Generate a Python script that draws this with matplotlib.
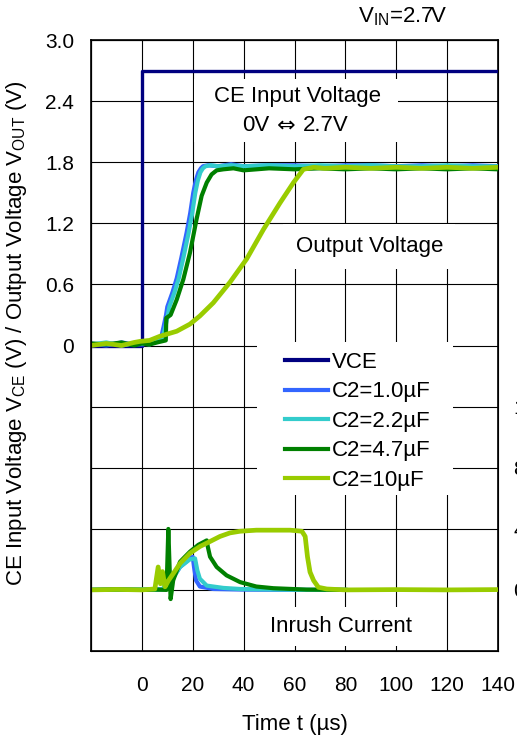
import matplotlib
matplotlib.use("Agg")
import matplotlib.pyplot as plt
from matplotlib.patches import Rectangle

plt.rcParams['font.family'] = ['Liberation Sans', 'DejaVu Sans']
plt.rcParams['mathtext.fontset'] = 'custom'
plt.rcParams['mathtext.rm'] = 'Liberation Sans'
plt.rcParams['mathtext.it'] = 'Liberation Sans'

# ---------------- data ----------------
x_ticks = [-20, 0, 20, 40, 60, 80, 100, 120, 140]
x_tick_labels = ['', '0', '20', '40', '60', '80', '100', '120', '140']
y_ticks = [-3.0, -2.4, -1.8, -1.2, -0.6, 0.0, 0.6, 1.2, 1.8, 2.4, 3.0]
y_tick_labels = ['', '', '', '', '', '0', '0.6', '1.2', '1.8', '2.4', '3.0']
i_ticks = [0, 4, 8, 12]
i_tick_labels = ['0', '4', '8', '12']

series_names = ['VCE', 'C2=1.0µF', 'C2=2.2µF', 'C2=4.7µF', 'C2=10µF']

# CE input voltage (V)
t_vce = [-20, 0, 0, 140]
v_vce = [0.0, 0.0, 2.7, 2.7]

# Output voltage C2=1.0uF
t_v10 = [-20, -14, -8, -3, 0, 3, 5, 7.5, 8.5, 9.5, 10, 12, 13.7, 15.5, 17.6, 19, 20.2, 21.2,
         22.2, 23.2, 24, 26, 30, 35, 40, 50, 60, 70, 80, 90, 100, 110, 120, 130, 140]
v_v10 = [0.02, 0.0, 0.03, 0.01, 0.01, 0.02, 0.03, 0.07, 0.18, 0.30, 0.38, 0.52, 0.66, 0.86,
         1.11, 1.30, 1.50, 1.62, 1.70, 1.74, 1.76, 1.77, 1.76, 1.78, 1.76, 1.77, 1.77, 1.76,
         1.77, 1.77, 1.76, 1.77, 1.76, 1.77, 1.76]

# Output voltage C2=2.2uF
t_v22 = [-20, -14, -8, -3, 0, 3, 5, 8.0, 9.2, 10.2, 10.8, 12.8, 14.5, 16.3, 18.4, 19.8, 21.0,
         22.0, 23.0, 24.0, 25, 27, 30, 35, 40, 50, 60, 70, 80, 90, 100, 110, 120, 130, 140]
v_v22 = [0.01, 0.03, 0.0, 0.02, 0.02, 0.01, 0.03, 0.06, 0.18, 0.30, 0.38, 0.52, 0.66, 0.86,
         1.11, 1.30, 1.50, 1.62, 1.70, 1.74, 1.76, 1.77, 1.76, 1.77, 1.76, 1.77, 1.76, 1.77,
         1.76, 1.77, 1.76, 1.76, 1.77, 1.76, 1.76]

# Output voltage C2=4.7uF
t_v47 = [-20, -14, -8, -3, 0, 3, 6, 9.4, 9.6, 11.3, 13.7, 16.3, 18.9, 21.5, 23.5, 25.5, 27.4,
         29.4, 32, 36, 40, 50, 60, 70, 80, 90, 100, 110, 120, 130, 140]
v_v47 = [0.02, 0.01, 0.03, 0.0, 0.02, 0.01, 0.03, 0.05, 0.27, 0.30, 0.45, 0.65, 0.91, 1.24,
         1.47, 1.60, 1.68, 1.72, 1.73, 1.74, 1.72, 1.74, 1.73, 1.74, 1.73, 1.74, 1.73, 1.74,
         1.73, 1.74, 1.73]

# Output voltage C2=10uF
t_v100 = [-20, -14, -8, -3, -0.8, 3, 7, 13.7, 18.9, 22.8, 28.1, 34.6, 41.2, 47.8, 54.3, 59.6,
          63.5, 67.5, 72, 80, 90, 100, 110, 120, 130, 140]
v_v100 = [0.0, 0.02, 0.0, 0.03, 0.04, 0.05, 0.09, 0.14, 0.21, 0.29, 0.42, 0.62, 0.85, 1.14,
          1.40, 1.60, 1.73, 1.75, 1.74, 1.75, 1.74, 1.75, 1.74, 1.75, 1.74, 1.75]

# Inrush current (right axis units)
t_i10 = [-20, -10, 0, 5, 8.4, 10.4, 12.3, 15, 18.9, 20, 20.5, 21.3, 22.8, 28.1, 40, 60, 80]
i_i10 = [0.0, 0.05, 0.0, 0.05, 0.05, 0.5, 0.8, 1.5, 2.06, 2.17, 1.5, 0.62, 0.22, 0.06, 0.02,
         0.0, 0.0]

t_i22 = [-20, -10, 0, 5, 8.4, 10.4, 12.3, 15, 18.9, 20.9, 21.8, 22.8, 25.5, 32, 38.6, 50,
         65, 80]
i_i22 = [0.02, 0.0, 0.04, 0.0, 0.05, 1.2, 0.8, 1.5, 2.0, 2.06, 1.28, 0.73, 0.28, 0.13, 0.06,
         0.03, 0.0, 0.0]

t_i47 = [-20, -10, 0, 5, 9.7, 10.4, 11.3, 12.3, 15, 18.9, 22.2, 25.5, 25.9, 26.8, 29.4, 33.3,
         38.6, 45, 51.7, 64.8, 80]
i_i47 = [0.0, 0.03, 0.0, 0.02, 0.0, 3.99, -0.6, 0.62, 1.84, 2.5, 2.95, 3.24, 2.84, 2.17, 1.5,
         0.95, 0.51, 0.22, 0.11, 0.02, 0.0]

t_i100 = [-20, -10, 0, 5.1, 6.4, 7.3, 8.1, 9.1, 10.4, 12.3, 15, 18.9, 22.8, 26.8, 30.7, 34.6,
          38.6, 45, 51.7, 58.3, 62.9, 64.2, 65.1, 66.1, 67.5, 69.4, 72.7, 80, 100, 120, 140]
i_i100 = [0.0, 0.03, 0.0, 0.06, 1.5, 0.4, 1.2, 0.2, 0.6, 1.06, 1.73, 2.4, 2.84, 3.17, 3.5,
          3.73, 3.84, 3.91, 3.91, 3.91, 3.84, 3.5, 2.17, 1.17, 0.62, 0.17, 0.06, 0.0, 0.02,
          0.0, 0.02]

colors = ['#000080', '#3366FF', '#33CCCC', '#008000', '#99CC00']

TICK_FS = 15
TEXT_FS = 16

# ---------------- figure ----------------
fig = plt.figure(figsize=(5.17, 7.38), dpi=100)
ax = fig.add_axes([91 / 517, 87 / 738, 407 / 517, 611 / 738])
ax.set_xlim(-20, 140)
ax.set_ylim(-3.0, 3.0)
ax.set_axisbelow(True)
ax.grid(True, color='black', linewidth=0.8)
ax.set_xticks(x_ticks)
ax.set_xticklabels(x_tick_labels, fontsize=TICK_FS)
ax.set_yticks(y_ticks)
ax.set_yticklabels(y_tick_labels, fontsize=TICK_FS)
ax.tick_params(axis='both', length=0)
ax.tick_params(axis='x', pad=18)
ax.tick_params(axis='y', pad=12)
for s in ax.spines.values():
    s.set_linewidth(1.2)

ax.set_xlabel('Time t (µs)', fontsize=TEXT_FS, labelpad=14)
ax.set_ylabel(r'CE Input Voltage V$_{\mathrm{CE}}$ (V) / Output Voltage V$_{\mathrm{OUT}}$ (V)',
              fontsize=TEXT_FS)
ax.yaxis.set_label_coords(-0.152, 0.52)

lw = 3.0
h0, = ax.plot(t_vce, v_vce, color=colors[0], lw=2.4, zorder=3, label=series_names[0])
h1, = ax.plot(t_v10, v_v10, color=colors[1], lw=lw, zorder=3.1, label=series_names[1])
h2, = ax.plot(t_v22, v_v22, color=colors[2], lw=lw, zorder=3.2, label=series_names[2])
h3, = ax.plot(t_v47, v_v47, color=colors[3], lw=lw, zorder=3.3, label=series_names[3])
h4, = ax.plot(t_v100, v_v100, color=colors[4], lw=lw + 0.4, zorder=3.4, label=series_names[4])

# white box behind the CE annotation
ax.add_patch(Rectangle((20.6, 2.0), 80.2, 0.62, facecolor='white', edgecolor='none',
                       zorder=2.5))
ax.text(61, 2.45, 'CE Input Voltage', fontsize=TEXT_FS, ha='center', va='center', zorder=2.9)
ax.text(50.0, 2.16, '0V', fontsize=TEXT_FS, ha='right', va='center', zorder=2.9)
ax.text(56.7, 2.16, '⇔', fontsize=TEXT_FS, ha='center', va='center', zorder=2.9,
        family=['DejaVu Sans'])
ax.text(63.4, 2.16, '2.7V', fontsize=TEXT_FS, ha='left', va='center', zorder=2.9)
ax.text(89.4, 0.97, 'Output Voltage', fontsize=TEXT_FS, ha='center', va='center',
        bbox=dict(facecolor='white', edgecolor='none', boxstyle='square,pad=0.55'), zorder=2.8)
ax.text(78.3, -2.76, 'Inrush Current', fontsize=TEXT_FS, ha='center', va='center',
        bbox=dict(facecolor='white', edgecolor='none', boxstyle='square,pad=0.4'), zorder=2.8)

# legend area
ax.add_patch(Rectangle(((257 - 91) / 407, 1 - (495 - 40) / 611), (453 - 257) / 407,
                       (495 - 342) / 611, transform=ax.transAxes, facecolor='white',
                       edgecolor='none', zorder=2.5))
leg = ax.legend(handles=[h0, h1, h2, h3, h4], loc='upper left',
                bbox_to_anchor=((285 - 91) / 407, 1 - (352 - 40) / 611),
                frameon=False, fontsize=TEXT_FS, handlelength=1.95, handletextpad=0.15,
                labelspacing=0.38, borderpad=0, borderaxespad=0)
for lh in leg.get_lines():
    lh.set_linewidth(3)

# right axis: inrush current
ax2 = ax.twinx()
ax2.set_ylim(-4, 36)
ax2.set_yticks(i_ticks)
ax2.set_yticklabels(i_tick_labels, fontsize=TICK_FS)
ax2.tick_params(axis='y', length=0, pad=11)
ax2.plot(t_i10, i_i10, color=colors[1], lw=lw)
ax2.plot(t_i22, i_i22, color=colors[2], lw=lw)
ax2.plot(t_i47, i_i47, color=colors[3], lw=lw)
ax2.plot(t_i100, i_i100, color=colors[4], lw=lw + 0.4)

fig.text(403 / 517, 1 - 17 / 738, r'V$_{\mathrm{IN}}$=2.7V', fontsize=TEXT_FS, ha='center',
         va='center')

fig.savefig('out.png', dpi=100)
